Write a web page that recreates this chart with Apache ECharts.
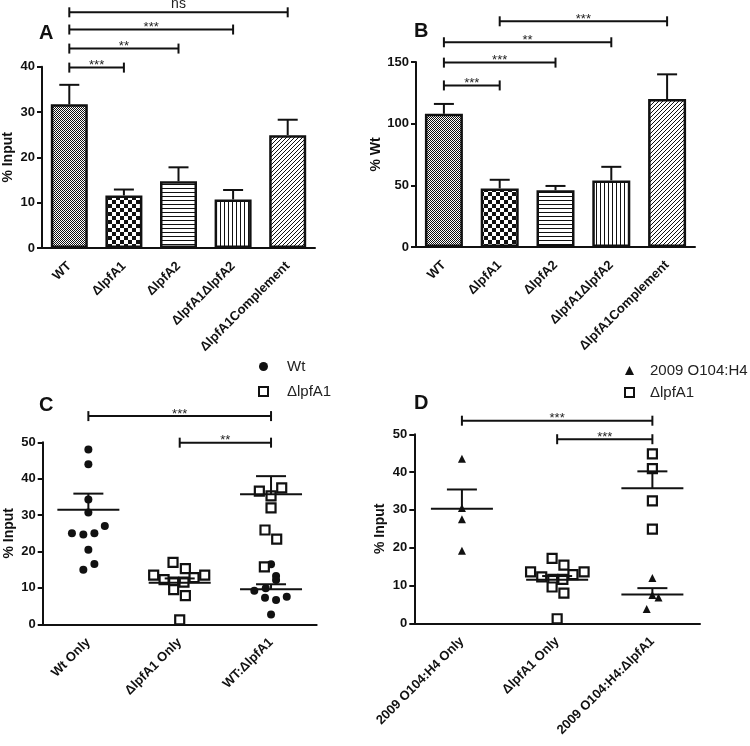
<!DOCTYPE html>
<html>

<head>
    <meta charset="utf-8">
    <script src="https://cdn.jsdelivr.net/npm/echarts@6.0.0/dist/echarts.min.js"></script>
</head>

<body style="margin:0">
    <div id="echartsMain" style="width: 750px; height: 746px;"></div>
</body>

</html>

<script type="text/javascript">
    // ---- panel A / B (bars, mean + SEM top) ----
    let barCats = ['WT', 'ΔlpfA1', 'ΔlpfA2', 'ΔlpfA1ΔlpfA2', 'ΔlpfA1Complement']
    let aMean = [31.7, 11.6, 14.7, 10.7, 24.9]
    let aTop = [36.0, 12.9, 17.8, 12.8, 28.3]
    let bMean = [108, 47.5, 46, 54, 120]
    let bTop = [116, 54.5, 49.5, 65, 140]
    // brackets: from category, to category, height, stars
    let aSig = [[0, 1, 39.8, '***'], [0, 2, 44, '**'], [0, 3, 48.2, '***'], [0, 4, 52, 'ns']]
    let bSig = [[0, 1, 131, '***'], [0, 2, 149.5, '***'], [0, 3, 166, '**'], [1, 4, 183, '***']]

    // ---- panel C (dot plot) ----
    let cCats = ['Wt Only', 'ΔlpfA1 Only', 'WT:ΔlpfA1']
    let cWtOnly = [48, 44, 34.3, 30.7, 27, 25, 24.7, 25, 20.5, 16.6, 15]
    let cWtOnlyOff = [0, 0, 0, 0, 0.18, -0.18, -0.055, 0.066, 0, 0.066, -0.055]
    let cMutOnly = [17.0, 15.3, 13.5, 13.5, 12.3, 12.8, 11.6, 11.6, 9.5, 7.9, 1.2]
    let cMutOnlyOff = [-0.073, 0.062, -0.285, 0.274, -0.171, 0.157, 0.047, -0.066, -0.066, 0.062, 0]
    let cMixMut = [36.6, 37.5, 35.3, 32.0, 25.9, 23.4, 15.8]
    let cMixMutOff = [-0.128, 0.117, 0, 0, -0.066, 0.062, -0.073]
    let cMixWt = [16.5, 13.3, 12.2, 9.9, 9.2, 7.3, 6.7, 7.6, 2.7]
    let cMixWtOff = [0, 0.055, 0.055, -0.058, -0.183, -0.066, 0.055, 0.172, 0]
    let cMeanCat = [0, 1, 2, 2]
    let cMean = [31.5, 11.4, 35.7, 9.6]
    let cTop = [35.9, 12.6, 40.7, 11.0]
    let cSig = [[0, 2, 57.2, '***'], [1, 2, 49.9, '**']]

    // ---- panel D (dot plot) ----
    let dCats = ['2009 O104:H4 Only', 'ΔlpfA1 Only', '2009 O104:H4:ΔlpfA1']
    let dEhecOnly = [43.5, 30.5, 27.5, 19.2]
    let dEhecOnlyOff = [0, 0, 0, 0]
    let dMutOnly = [17.2, 15.4, 13.6, 13.6, 12.3, 12.9, 11.6, 11.6, 9.6, 8.0, 1.2]
    let dMutOnlyOff = [-0.053, 0.071, -0.279, 0.283, -0.162, 0.166, -0.046, 0.06, -0.053, 0.071, 0]
    let dMixMut = [44.8, 40.9, 32.4, 24.9]
    let dMixMutOff = [0, 0, 0, 0]
    let dMixEhec = [12.0, 7.5, 6.8, 3.8]
    let dMixEhecOff = [0, 0, 0.064, -0.06]
    let dMeanCat = [0, 1, 2, 2]
    let dMean = [30.3, 11.5, 35.7, 7.6]
    let dTop = [35.4, 12.5, 40.2, 9.3]
    let dSig = [[0, 2, 53.6, '***'], [1, 2, 48.7, '***']]

    const FONT = 'Liberation Sans, Arial, sans-serif'

    function pattern(kind) {
        let c = document.createElement('canvas')
        let s = kind === 'check' ? 8 : (kind === 'fine' ? 2 : 4)
        c.width = s
        c.height = s
        let ctx = c.getContext('2d')
        ctx.fillStyle = '#fff'
        ctx.fillRect(0, 0, s, s)
        ctx.fillStyle = '#111'
        if (kind === 'fine') { ctx.fillRect(0, 0, 1, 1); ctx.fillRect(1, 1, 1, 1) }
        if (kind === 'check') { ctx.fillRect(0, 0, 4, 4); ctx.fillRect(4, 4, 4, 4) }
        if (kind === 'h') { ctx.fillRect(0, 0, 4, 1) }
        if (kind === 'v') { ctx.fillRect(0, 0, 1, 4) }
        if (kind === 'd') { for (let i = 0; i < 4; i++) ctx.fillRect(i, 3 - i, 1, 1) }
        return { image: c, repeat: 'repeat' }
    }
    let fills = ['fine', 'check', 'h', 'v', 'd'].map(pattern)

    let line = { stroke: '#111', lineWidth: 2 }

    function errRender(means, tops) {
        return function (params, api) {
            let i = params.dataIndex
            let m = api.coord([i, means[i]])
            let t = api.coord([i, tops[i]])
            return {
                type: 'group', children: [
                    { type: 'line', shape: { x1: m[0], y1: m[1], x2: t[0], y2: t[1] }, style: line },
                    { type: 'line', shape: { x1: t[0] - 10, y1: t[1], x2: t[0] + 10, y2: t[1] }, style: line }
                ]
            }
        }
    }

    function meanRender(cats, means, tops) {
        return function (params, api) {
            let i = params.dataIndex
            let m = api.coord([cats[i], means[i]])
            let t = api.coord([cats[i], tops[i]])
            return {
                type: 'group', children: [
                    { type: 'line', shape: { x1: m[0] - 31, y1: m[1], x2: m[0] + 31, y2: m[1] }, style: line },
                    { type: 'line', shape: { x1: m[0], y1: m[1], x2: t[0], y2: t[1] }, style: line },
                    { type: 'line', shape: { x1: t[0] - 15, y1: t[1], x2: t[0] + 15, y2: t[1] }, style: line }
                ]
            }
        }
    }

    function sigRender(rows) {
        return function (params, api) {
            let r = rows[params.dataIndex]
            let p1 = api.coord([r[0], r[2]])
            let p2 = api.coord([r[1], r[2]])
            let ns = r[3] === 'ns'
            return {
                type: 'group', children: [
                    { type: 'line', shape: { x1: p1[0], y1: p1[1], x2: p2[0], y2: p2[1] }, style: line },
                    { type: 'line', shape: { x1: p1[0], y1: p1[1] - 5, x2: p1[0], y2: p1[1] + 5 }, style: line },
                    { type: 'line', shape: { x1: p2[0], y1: p2[1] - 5, x2: p2[0], y2: p2[1] + 5 }, style: line },
                    {
                        type: 'text', x: (p1[0] + p2[0]) / 2, y: p1[1] - (ns ? 8 : 2),
                        style: {
                            text: r[3], align: 'center', verticalAlign: 'middle',
                            font: (ns ? '14px ' : '13px ') + FONT, fill: '#222'
                        }
                    }
                ]
            }
        }
    }

    function dots(offs, vals, cat) {
        return vals.map((v, i) => [cat + offs[i], v])
    }

    function catAxis(grid, cats) {
        return {
            type: 'category', gridIndex: grid, data: cats,
            axisLine: { lineStyle: { color: '#111', width: 2 } },
            axisTick: { alignWithLabel: true, length: 5, lineStyle: { width: 2, color: '#111' } },
            axisLabel: { rotate: 45, margin: 16, color: '#111', fontWeight: 'bold', fontSize: 13, fontFamily: FONT }
        }
    }
    function valAxis(grid, max, interval, name, gap) {
        return {
            type: 'value', gridIndex: grid, min: 0, max: max, interval: interval,
            name: name, nameLocation: 'middle', nameGap: gap,
            nameTextStyle: { fontWeight: 'bold', fontSize: 14, color: '#111', fontFamily: FONT },
            axisLine: { show: true, onZero: false, lineStyle: { color: '#111', width: 2 } },
            axisTick: { show: true, length: 5, lineStyle: { width: 2, color: '#111' } },
            splitLine: { show: false },
            axisLabel: { margin: 7, color: '#111', fontWeight: 'bold', fontSize: 13, fontFamily: FONT }
        }
    }
    function hiddenX(grid) {
        return { type: 'value', gridIndex: grid, min: -0.5, max: 2.5, show: false }
    }

    let sq = { color: '#fff', borderColor: '#111', borderWidth: 2.2, opacity: 1 }
    let blk = { color: '#111', opacity: 1 }
    let letter = { fontSize: 20, fontWeight: 'bold', color: '#111' }

    let myChart = echarts.init(document.getElementById('echartsMain'))

    let option = {
        animation: false,
        textStyle: { fontFamily: FONT },
        title: [
            { text: 'A', left: 34, top: 18, textStyle: letter },
            { text: 'B', left: 409, top: 16, textStyle: letter },
            { text: 'C', left: 34, top: 390, textStyle: letter },
            { text: 'D', left: 409, top: 388, textStyle: letter }
        ],
        legend: [
            {
                orient: 'vertical', left: 253, top: 354, itemWidth: 9, itemHeight: 9, itemGap: 10,
                data: ['Wt', 'ΔlpfA1'],
                textStyle: { fontSize: 15, color: '#222', padding: [0, 0, 0, 14] }
            },
            {
                orient: 'vertical', left: 619, top: 358, itemWidth: 9, itemHeight: 9, itemGap: 7,
                data: ['2009 O104:H4', 'ΔlpfA1'],
                textStyle: { fontSize: 15, color: '#222', padding: [0, 0, 0, 11] }
            }
        ],
        grid: [
            { left: 41, top: 66.7, width: 274, height: 181.3 },
            { left: 416, top: 62, width: 279, height: 185 },
            { left: 42.7, top: 442.3, width: 274, height: 182 },
            { left: 414.3, top: 434.3, width: 285.7, height: 189 }
        ],
        xAxis: [
            catAxis(0, barCats),
            catAxis(1, barCats),
            catAxis(2, cCats),
            hiddenX(2),
            catAxis(3, dCats),
            hiddenX(3)
        ],
        yAxis: [
            valAxis(0, 40, 10, '% Input', 27),
            valAxis(1, 150, 50, '% Wt', 33),
            valAxis(2, 50, 10, '% Input', 27),
            valAxis(3, 50, 10, '% Input', 27)
        ],
        series: [
            // A
            {
                type: 'bar', xAxisIndex: 0, yAxisIndex: 0, barWidth: 37,
                data: aMean.map((v, i) => ({ value: v, itemStyle: { color: fills[i] } })),
                itemStyle: { borderColor: '#111', borderWidth: 2.5 }
            },
            {
                type: 'custom', xAxisIndex: 0, yAxisIndex: 0, clip: false,
                renderItem: errRender(aMean, aTop), data: aTop.map((v, i) => [i, v])
            },
            {
                type: 'custom', xAxisIndex: 0, yAxisIndex: 0, clip: false,
                renderItem: sigRender(aSig), data: aSig.map(r => [r[0], r[2]])
            },
            // B
            {
                type: 'bar', xAxisIndex: 1, yAxisIndex: 1, barWidth: 38,
                data: bMean.map((v, i) => ({ value: v, itemStyle: { color: fills[i] } })),
                itemStyle: { borderColor: '#111', borderWidth: 2.5 }
            },
            {
                type: 'custom', xAxisIndex: 1, yAxisIndex: 1, clip: false,
                renderItem: errRender(bMean, bTop), data: bTop.map((v, i) => [i, v])
            },
            {
                type: 'custom', xAxisIndex: 1, yAxisIndex: 1, clip: false,
                renderItem: sigRender(bSig), data: bSig.map(r => [r[0], r[2]])
            },
            // C
            {
                name: 'Wt', type: 'scatter', xAxisIndex: 3, yAxisIndex: 2, symbol: 'circle', symbolSize: 8,
                itemStyle: blk, data: dots(cWtOnlyOff, cWtOnly, 0).concat(dots(cMixWtOff, cMixWt, 2))
            },
            {
                name: 'ΔlpfA1', type: 'scatter', xAxisIndex: 3, yAxisIndex: 2, symbol: 'rect', symbolSize: 9,
                itemStyle: sq, data: dots(cMutOnlyOff, cMutOnly, 1).concat(dots(cMixMutOff, cMixMut, 2))
            },
            {
                type: 'custom', xAxisIndex: 3, yAxisIndex: 2, clip: false, z: 3,
                renderItem: meanRender(cMeanCat, cMean, cTop), data: cTop.map((v, i) => [cMeanCat[i], v])
            },
            {
                type: 'custom', xAxisIndex: 3, yAxisIndex: 2, clip: false,
                renderItem: sigRender(cSig), data: cSig.map(r => [r[0], r[2]])
            },
            // D
            {
                name: '2009 O104:H4', type: 'scatter', xAxisIndex: 5, yAxisIndex: 3, symbol: 'triangle', symbolSize: 8,
                itemStyle: blk, data: dots(dEhecOnlyOff, dEhecOnly, 0).concat(dots(dMixEhecOff, dMixEhec, 2))
            },
            {
                name: 'ΔlpfA1', type: 'scatter', xAxisIndex: 5, yAxisIndex: 3, symbol: 'rect', symbolSize: 9,
                itemStyle: sq, data: dots(dMutOnlyOff, dMutOnly, 1).concat(dots(dMixMutOff, dMixMut, 2))
            },
            {
                type: 'custom', xAxisIndex: 5, yAxisIndex: 3, clip: false, z: 3,
                renderItem: meanRender(dMeanCat, dMean, dTop), data: dTop.map((v, i) => [dMeanCat[i], v])
            },
            {
                type: 'custom', xAxisIndex: 5, yAxisIndex: 3, clip: false,
                renderItem: sigRender(dSig), data: dSig.map(r => [r[0], r[2]])
            }
        ]
    };
    myChart.setOption(option);
</script>
